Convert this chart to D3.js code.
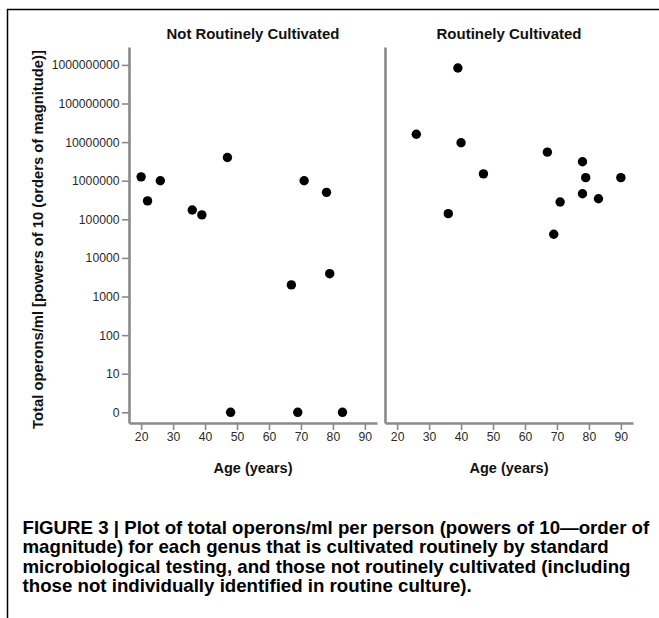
<!DOCTYPE html>
<html>
<head>
<meta charset="utf-8">
<script src="https://cdn.jsdelivr.net/npm/d3@7"></script>
<style>
  html, body { margin: 0; padding: 0; background: #fff; }
  svg { display: block; }
</style>
</head>
<body>
<div id="chart"></div>
<script>
// ---- Data ----
const panelTitles = ["Not Routinely Cultivated", "Routinely Cultivated"];

// Not routinely cultivated: ages and total operons/ml (0 = none detected)
const notRoutineAge   = [20, 22, 26, 36, 39, 47, 48, 67, 69, 71, 78, 79, 83];
const notRoutineValue = [1260000, 300000, 1000000, 174000, 130000, 4000000, 0, 2000, 0, 1000000, 500000, 3900, 0];

// Routinely cultivated
const routineAge   = [26, 36, 39, 40, 47, 67, 69, 71, 78, 78, 79, 83, 90];
const routineValue = [16000000, 140000, 830000000, 9600000, 1500000, 5500000, 41000, 280000, 3100000, 460000, 1200000, 340000, 1200000];

const xTickValues = [20, 30, 40, 50, 60, 70, 80, 90];
const yTickValues = [1, 10, 100, 1000, 10000, 100000, 1000000, 10000000, 100000000, 1000000000];
const yTickLabels = ["0", "10", "100", "1000", "10000", "100000", "1000000", "10000000", "100000000", "1000000000"];

const xAxisTitle = "Age (years)";
const yAxisTitle = "Total operons/ml [powers of 10 (orders of magnitude)]";
const captionLines = [
  "FIGURE 3 | Plot of total operons/ml per person (powers of 10\u2014order of",
  "magnitude) for each genus that is cultivated routinely by standard",
  "microbiological testing, and those not routinely cultivated (including",
  "those not individually identified in routine culture)."
];

// ---- Layout ----
const W = 659, H = 618;
const plotTop = 47, plotBottom = 423;
const panels = [
  { x0: 129, x1: 377, title: panelTitles[0], age: notRoutineAge, value: notRoutineValue, yLabels: true },
  { x0: 385, x1: 633, title: panelTitles[1], age: routineAge, value: routineValue, yLabels: false }
];
const axisColor = "#8a8a8a";
const tickText = "#2a2a2a";
const chartFont = "'Liberation Sans', Arial, sans-serif";

const svg = d3.select("#chart").append("svg")
  .attr("width", W).attr("height", H)
  .style("background", "#fff");

// fit a text element's font-size to a target width
function fitWidth(sel, target) {
  const node = sel.node();
  const fs = parseFloat(sel.style("font-size"));
  const len = node.getComputedTextLength();
  if (len > 0) sel.style("font-size", (fs * target / len).toFixed(2) + "px");
  return sel;
}

// border lines (top and left)
svg.append("line").attr("x1", 7).attr("x2", W).attr("y1", 9.5).attr("y2", 9.5)
  .attr("stroke", "#000").attr("stroke-width", 1.5);
svg.append("line").attr("x1", 7.5).attr("x2", 7.5).attr("y1", 9).attr("y2", H)
  .attr("stroke", "#000").attr("stroke-width", 1.5);

const y = d3.scaleLog()
  .domain([Math.pow(10, -0.277), Math.pow(10, 9.464)])
  .range([plotBottom, plotTop]);

panels.forEach(p => {
  const x = d3.scaleLinear().domain([16.2, 93.8]).range([p.x0, p.x1]);
  const g = svg.append("g");

  // x axis
  const xa = g.append("g")
    .attr("transform", `translate(0,${plotBottom})`)
    .call(d3.axisBottom(x).tickValues(xTickValues).tickSize(7).tickSizeOuter(0).tickPadding(2));
  xa.select(".domain").attr("stroke", axisColor).attr("stroke-width", 2.6);
  xa.selectAll(".tick line").attr("stroke", axisColor).attr("stroke-width", 1.6);
  xa.selectAll(".tick text").attr("fill", tickText)
    .style("font-family", chartFont).style("font-size", "12.2px");

  // y axis
  const yAxis = d3.axisLeft(y).tickValues(p.yLabels ? yTickValues : [])
    .tickFormat((d, i) => yTickLabels[i]).tickSize(7).tickSizeOuter(0).tickPadding(2.5);
  const ya = g.append("g")
    .attr("transform", `translate(${p.x0},0)`)
    .call(yAxis);
  ya.select(".domain").attr("stroke", axisColor).attr("stroke-width", 2.6);
  ya.selectAll(".tick line").attr("stroke", axisColor).attr("stroke-width", 1.6);
  ya.selectAll(".tick text").attr("fill", tickText)
    .style("font-family", chartFont).style("font-size", "12.2px");

  // panel title
  const t = g.append("text")
    .attr("x", (p.x0 + p.x1) / 2).attr("y", 38.5)
    .attr("text-anchor", "middle")
    .style("font-family", chartFont).style("font-weight", "bold").style("font-size", "13px")
    .attr("fill", "#111")
    .text(p.title);
  fitWidth(t, p.yLabels ? 173 : 145);

  // x axis title
  const xt = g.append("text")
    .attr("x", (p.x0 + p.x1) / 2).attr("y", 472.5)
    .attr("text-anchor", "middle")
    .style("font-family", chartFont).style("font-weight", "bold").style("font-size", "13px")
    .attr("fill", "#111")
    .text(xAxisTitle);
  fitWidth(xt, 79);

  // points
  g.selectAll("circle").data(p.age.map((a, i) => ({ a, v: p.value[i] })))
    .join("circle")
    .attr("cx", d => x(d.a))
    .attr("cy", d => y(d.v > 0 ? d.v : 1))
    .attr("r", 4.7)
    .attr("fill", "#000");
});

// y axis title
const yt = svg.append("text")
  .attr("transform", `translate(43,239.5) rotate(-90)`)
  .attr("text-anchor", "middle")
  .style("font-family", chartFont).style("font-weight", "bold").style("font-size", "13px")
  .attr("fill", "#111")
  .text(yAxisTitle);
fitWidth(yt, 379);

// caption (condensed bold, emulated by horizontal scaling)
const capFont = "'Liberation Sans', Arial, sans-serif";
const cap = svg.append("g").selectAll("text").data(captionLines).join("text")
  .attr("x", 0).attr("y", 0)
  .style("font-family", capFont)
  .style("font-weight", "bold")
  .style("font-size", "17.5px")
  .attr("fill", "#000")
  .text(d => d);
const firstLen = cap.nodes()[0].getComputedTextLength();
const sx = 627 / firstLen;
cap.attr("transform", (d, i) => `translate(22.5,${533.5 + i * 19.6}) scale(${sx},1)`);
</script>
</body>
</html>
